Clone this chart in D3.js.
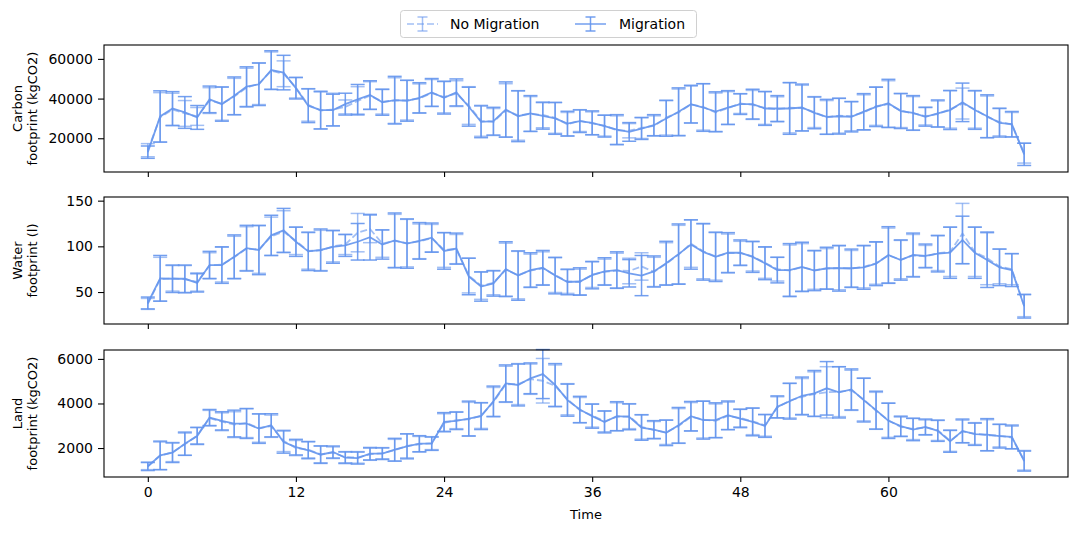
<!DOCTYPE html>
<html>
<head>
<meta charset="utf-8">
<script src="https://cdn.jsdelivr.net/npm/d3@7"></script>
<style>
    body { margin: 0; background: #fff; }
    text { font-family: "DejaVu Sans", sans-serif; fill: #000; }
</style>
</head>
<body>
<div id="chart-area"></div>
<script>
// time steps 0..71
var time = d3.range(72);
var xTicks = [0, 12, 24, 36, 48, 60];
var seriesNames = ["No Migration", "Migration"];

// Carbon footprint (kgCO2)
var carbonMig = [13000, 31000, 35000, 33000, 30500, 39600, 37200, 41400, 46000, 47200, 54400, 53100,
    45200, 36400, 34200, 34200, 37200, 39600, 41800, 38100, 39200, 38900, 40400, 43100,
    40400, 43100, 35900, 28300, 28600, 34500, 31100, 32500, 31300, 30000, 27400, 28600,
    27800, 26100, 24400, 23200, 24900, 26600, 30000, 33400, 37200, 35500, 33400, 35500,
    37200, 37200, 35000, 35000, 35000, 35500, 32800, 30800, 31100, 30800, 33400, 35800,
    37600, 33700, 32800, 30800, 32500, 34200, 38100, 34200, 31100, 27800, 27100, 11900];
var carbonMigErr = [3100, 12900, 8500, 8000, 6000, 6700, 8600, 9500, 10000, 10700, 9700, 8700,
    5400, 8500, 9500, 8000, 5500, 7500, 7200, 6500, 12000, 10300, 7600, 7000,
    8200, 6800, 9800, 8000, 7000, 13900, 12800, 9000, 6700, 8000, 6200, 5700,
    6000, 5500, 7500, 4700, 5500, 5300, 9000, 12000, 9500, 12000, 10000, 8500,
    5200, 7500, 8500, 6500, 13000, 11800, 8000, 8800, 9000, 7600, 9100, 9900,
    12100, 8800, 8700, 4700, 6800, 9800, 9700, 9700, 10800, 7200, 6400, 5600];
var carbonNoMig = [14000, 30500, 34500, 32500, 31000, 39000, 37500, 41000, 45500, 47500, 54000, 52500,
    45500, 36800, 34000, 34500, 35800, 38800, 41500, 38500, 39000, 39200, 40000, 42800,
    40800, 42500, 36500, 28800, 28200, 34000, 31500, 32200, 31800, 30300, 27000, 28900,
    27500, 26400, 24000, 23800, 25200, 26200, 30400, 33000, 37000, 35800, 33000, 35200,
    37500, 36800, 35300, 34600, 35400, 35200, 33200, 30500, 31400, 31200, 33000, 36200,
    37200, 34000, 32500, 31200, 32200, 34600, 37500, 34600, 30800, 28200, 26800, 12500];
var carbonNoMigErr = [3300, 12500, 8200, 6500, 4500, 6500, 8400, 9200, 9800, 10500, 9500, 6500,
    5200, 8200, 9300, 8200, 3500, 7200, 7000, 6300, 11500, 10000, 7400, 6800,
    8000, 6500, 9500, 7800, 6800, 13500, 12500, 8800, 6500, 7800, 6000, 5500,
    5800, 5300, 7300, 3600, 5300, 5100, 8800, 11800, 9300, 11700, 9800, 8300,
    5000, 7300, 8300, 6300, 12700, 11500, 7800, 8500, 8800, 7400, 8900, 9700,
    11800, 8600, 8500, 4500, 6600, 9500, 7800, 9500, 10500, 7000, 6200, 5000];

// Water footprint (l)
var waterMig = [38, 65, 64.5, 64.5, 60, 79.5, 79.5, 88.5, 98, 96, 112, 117.5,
    105, 94.5, 96, 99.5, 101, 105, 110, 102, 106.5, 103, 106, 109.5,
    95, 97.5, 67, 56, 59.5, 75, 68, 74, 76.5, 68, 61, 61.5,
    68.5, 72.5, 74, 70.5, 68, 72.5, 81.5, 91.5, 102, 94, 88.5, 93,
    93, 88.5, 81.5, 74, 74, 77.5, 73.5, 76, 76, 76, 77, 81,
    90.5, 85, 90.5, 89.5, 92, 93, 107, 93, 85, 77, 74, 34.5];
var waterMigErr = [6.5, 25, 15, 15, 10, 15, 20, 24, 25, 27, 22, 24,
    16, 21, 23, 18, 12, 20, 25, 16, 30, 27, 20, 16,
    20, 17, 20, 16, 14, 30, 27, 19, 19, 20, 14, 15,
    15, 15, 20, 15, 22, 17, 24, 33, 27, 31, 27, 22,
    14, 17, 18, 14, 29, 27, 22, 23, 25, 21, 24, 24,
    31, 22, 24, 13, 20, 28, 26, 28, 30, 20, 18, 13];
var waterNoMig = [37, 64, 65, 64, 61, 79, 80, 88, 97.5, 96.5, 111, 116,
    106, 95, 95.5, 100, 102, 115, 119, 103, 106, 103.5, 105.5, 109,
    96, 97, 68, 57, 60, 74.5, 68.5, 73.5, 76, 68.5, 61.5, 61,
    69, 72, 73.5, 73, 78, 72, 81, 91, 103, 94.5, 89, 92.5,
    92.5, 89, 82, 75, 73.5, 77, 74, 75.5, 76.5, 75.5, 77.5, 81.5,
    90, 85.5, 90, 89, 92.5, 94, 114, 94, 87, 78, 75, 35];
var waterNoMigErr = [6, 24, 14, 15, 10, 14, 19, 23, 24, 26, 21, 23,
    15, 20, 22, 17, 11, 21, 15, 15, 29, 26, 19, 15,
    19, 16, 19, 15, 13, 29, 26, 18, 18, 19, 13, 14,
    14, 14, 19, 14, 15, 16, 23, 32, 26, 30, 26, 21,
    13, 16, 17, 13, 28, 26, 21, 22, 24, 20, 23, 23,
    30, 21, 23, 12, 19, 27, 33, 27, 29, 19, 17, 12];

// Land footprint (kgCO2)
var landMig = [1170, 1670, 1790, 2195, 2540, 3370, 3220, 3100, 3100, 2870, 3020, 2270,
    2040, 1900, 1700, 1820, 1565, 1550, 1745, 1745, 1925, 2075, 2195, 2195,
    3170, 3220, 3325, 3430, 4100, 4900, 4830, 5130, 5320, 4830, 4150, 3730,
    3430, 3170, 3430, 3400, 2920, 2830, 2680, 3020, 3430, 3250, 3250, 3470,
    3325, 3170, 2990, 3850, 4100, 4345, 4450, 4680, 4500, 4630, 4150, 3700,
    3220, 2980, 2830, 2950, 2770, 2300, 2770, 2620, 2600, 2530, 2500, 1415];
var landMigErr = [180, 640, 440, 520, 380, 360, 410, 600, 670, 660, 520, 500,
    350, 380, 390, 270, 260, 270, 280, 260, 510, 560, 360, 300,
    420, 390, 780, 600, 680, 830, 940, 690, 1100, 960, 720, 590,
    540, 490, 650, 580, 570, 400, 570, 800, 660, 850, 780, 640,
    410, 620, 510, 490, 800, 840, 1030, 1200, 1150, 920, 980, 850,
    790, 450, 500, 350, 470, 490, 530, 500, 720, 530, 530, 450];
var landNoMig = [1200, 1650, 1820, 2170, 2560, 3340, 3180, 3050, 3120, 2900, 2980, 2320,
    2000, 1930, 1720, 1790, 1590, 1580, 1720, 1770, 1900, 2100, 2170, 2220,
    3130, 3250, 3290, 3460, 4060, 4860, 4870, 5090, 5020, 4790, 4190, 3700,
    3460, 3200, 3400, 3430, 2950, 2800, 2710, 2990, 3400, 3280, 3220, 3440,
    3350, 3200, 3020, 3820, 4130, 4300, 4420, 4500, 4530, 4590, 4180, 3670,
    3250, 2950, 2860, 2920, 2800, 2330, 2740, 2650, 2570, 2560, 2470, 1450];
var landNoMigErr = [170, 620, 430, 500, 370, 350, 400, 580, 650, 640, 500, 480,
    340, 370, 380, 260, 250, 260, 270, 250, 490, 540, 350, 290,
    410, 380, 760, 580, 660, 810, 920, 680, 1000, 940, 700, 570,
    520, 470, 630, 560, 550, 390, 550, 780, 640, 830, 760, 620,
    400, 600, 490, 480, 780, 820, 1000, 1150, 1120, 900, 960, 830,
    770, 440, 480, 340, 460, 480, 510, 490, 700, 510, 510, 440];

var panels = [
    { label: ["Carbon", "footprint (kgCO2)"], domain: [3000, 67000], ticks: [20000, 40000, 60000],
      values: [carbonNoMig, carbonMig], errors: [carbonNoMigErr, carbonMigErr] },
    { label: ["Water", "footprint (l)"], domain: [15, 154], ticks: [50, 100, 150],
      values: [waterNoMig, waterMig], errors: [waterNoMigErr, waterMigErr] },
    { label: ["Land", "footprint (kgCO2)"], domain: [700, 6400], ticks: [2000, 4000, 6000],
      values: [landNoMig, landMig], errors: [landNoMigErr, landMigErr] }
];

var width = 1079, height = 533;
var left = 104, right = 1068;
var tops = [45, 197, 350], panelH = 127;
var color = "#6495ed";
var opac = [0.6, 0.9];
var dash = ["7,3", null];
var cap = 7;

var svg = d3.select("#chart-area")
    .append("svg")
    .attr("width", width)
    .attr("height", height);

var x = d3.scaleLinear()
    .domain([-3.55, 74.55])
    .range([left, right]);

panels.forEach(function (p, k) {
    var g = svg.append("g")
        .attr("transform", "translate(0, " + tops[k] + ")");

    var y = d3.scaleLinear()
        .domain(p.domain)
        .range([panelH, 0]);

    // series: error bars then line
    p.values.forEach(function (vals, s) {
        var errs = p.errors[s];
        var sg = g.append("g")
            .attr("stroke", color)
            .attr("stroke-opacity", opac[s])
            .attr("fill", "none")
            .attr("stroke-width", 1.5);

        var bars = sg.selectAll(".bar")
            .data(time)
            .enter()
            .append("g")
            .attr("class", "bar");

        bars.append("line")
            .attr("x1", function (d) { return x(d); })
            .attr("x2", function (d) { return x(d); })
            .attr("y1", function (d) { return y(vals[d] - errs[d]); })
            .attr("y2", function (d) { return y(vals[d] + errs[d]); });
        bars.append("line")
            .attr("x1", function (d) { return x(d) - cap; })
            .attr("x2", function (d) { return x(d) + cap; })
            .attr("y1", function (d) { return y(vals[d] + errs[d]); })
            .attr("y2", function (d) { return y(vals[d] + errs[d]); });
        bars.append("line")
            .attr("x1", function (d) { return x(d) - cap; })
            .attr("x2", function (d) { return x(d) + cap; })
            .attr("y1", function (d) { return y(vals[d] - errs[d]); })
            .attr("y2", function (d) { return y(vals[d] - errs[d]); });

        var line = d3.line()
            .x(function (d) { return x(d); })
            .y(function (d) { return y(vals[d]); });

        sg.append("path")
            .datum(time)
            .attr("d", line)
            .attr("stroke-width", 1.8)
            .attr("stroke-dasharray", dash[s]);
    });

    // axes
    var yAxis = g.append("g")
        .attr("transform", "translate(" + left + ", 0)")
        .call(d3.axisLeft(y).tickValues(p.ticks).tickSize(6).tickPadding(5).tickFormat(d3.format("d")));
    yAxis.select(".domain").remove();
    yAxis.selectAll("text").attr("font-size", "14px").attr("font-family", "DejaVu Sans");
    yAxis.selectAll("line").attr("stroke-width", 1.1);

    var xAxis = g.append("g")
        .attr("transform", "translate(0, " + panelH + ")")
        .call(d3.axisBottom(x).tickValues(xTicks).tickSize(5).tickPadding(5));
    xAxis.select(".domain").remove();
    xAxis.selectAll("line").attr("stroke-width", 1.1);
    xAxis.selectAll("text").attr("font-size", "14px").attr("font-family", "DejaVu Sans");
    if (k < 2) xAxis.selectAll("text").remove();

    // frame
    g.append("rect")
        .attr("x", left)
        .attr("y", 0)
        .attr("width", right - left)
        .attr("height", panelH)
        .attr("fill", "none")
        .attr("stroke", "#000")
        .attr("stroke-width", 1.1);

    // Y label
    var lab = g.append("text")
        .attr("transform", "translate(25, " + panelH / 2 + ") rotate(-90)")
        .attr("text-anchor", "middle")
        .attr("font-size", "13px");
    lab.append("tspan").attr("x", 0).attr("y", -3).text(p.label[0]);
    lab.append("tspan").attr("x", 0).attr("y", 12).text(p.label[1]);
});

// X Label
svg.append("text")
    .attr("x", (left + right) / 2)
    .attr("y", 519)
    .attr("text-anchor", "middle")
    .attr("font-size", "13px")
    .text("Time");

// Legend
var leg = svg.append("g");
leg.append("rect")
    .attr("x", 400.5)
    .attr("y", 10.5)
    .attr("width", 296)
    .attr("height", 27)
    .attr("rx", 3)
    .attr("fill", "#fff")
    .attr("stroke", "#d0d0d0");

var legX = [407, 575], legText = [450, 619];
seriesNames.forEach(function (name, s) {
    var h = leg.append("g")
        .attr("stroke", color)
        .attr("stroke-opacity", opac[s])
        .attr("stroke-width", 1.5);
    h.append("line")
        .attr("x1", legX[s]).attr("x2", legX[s] + 31)
        .attr("y1", 24).attr("y2", 24)
        .attr("stroke-dasharray", dash[s]);
    h.append("line")
        .attr("x1", legX[s] + 15.5).attr("x2", legX[s] + 15.5)
        .attr("y1", 17).attr("y2", 31);
    h.append("line")
        .attr("x1", legX[s] + 10.5).attr("x2", legX[s] + 20.5)
        .attr("y1", 17).attr("y2", 17);
    h.append("line")
        .attr("x1", legX[s] + 10.5).attr("x2", legX[s] + 20.5)
        .attr("y1", 31).attr("y2", 31);
    leg.append("text")
        .attr("x", legText[s])
        .attr("y", 29)
        .attr("font-size", "14px")
        .text(name);
});
</script>
</body>
</html>
